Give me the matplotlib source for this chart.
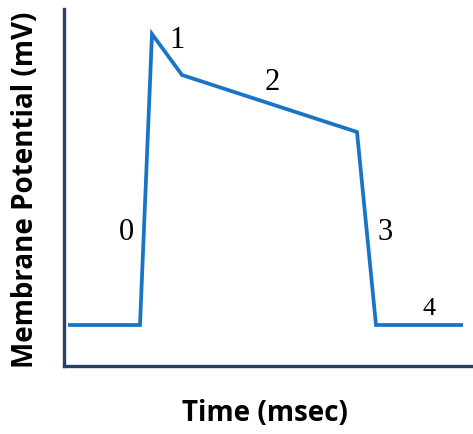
import matplotlib
matplotlib.use("Agg")
import matplotlib.pyplot as plt

# action potential trace, arbitrary units
time = [4, 76, 88, 118, 293, 312, 399]
potential = [41, 41, 332, 291, 234, 41, 41]

phase_labels = ["0", "1", "2", "3", "4"]
phase_x = [62, 113, 208, 321, 365]
phase_y = [135, 326, 284, 134, 58]
phase_sizes = [22, 22, 22, 22, 19]

fig = plt.figure(figsize=(4.73, 4.35), dpi=100)
ax = fig.add_axes([64 / 473, 68 / 435, 409 / 473, 357 / 435])

ax.plot(time, potential, color="#1a74c6", linewidth=2.7,
        solid_joinstyle="miter", solid_capstyle="butt")

for lab, x, y, s in zip(phase_labels, phase_x, phase_y, phase_sizes):
    ax.text(x, y, lab, fontsize=s, family="Liberation Serif",
            ha="center", va="center")

ax.set_xlim(0, 409)
ax.set_ylim(0, 357)
ax.set_xticks([])
ax.set_yticks([])
for side in ["top", "right"]:
    ax.spines[side].set_visible(False)
for side in ["left", "bottom"]:
    ax.spines[side].set_color("#2a4163")
    ax.spines[side].set_linewidth(2.4)

fig.text(265 / 473, 1 - 414 / 435, "Time (msec)", fontsize=20,
         fontweight="bold", family="Open Sans", ha="center", va="center")
fig.text(26 / 473, 1 - 190 / 435, "Membrane Potential (mV)", fontsize=20,
         fontweight="bold", family="Open Sans", ha="center", va="center",
         rotation=90)

fig.savefig("out.png", dpi=100)
